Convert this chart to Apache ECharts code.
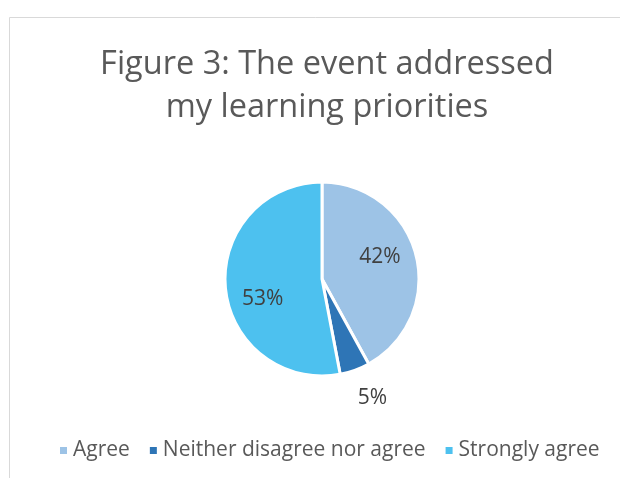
<!DOCTYPE html>
<html><head><meta charset="utf-8">
<script src="https://cdn.jsdelivr.net/npm/echarts@6/dist/echarts.min.js"></script>
<style>html,body{margin:0;padding:0;background:#fff}#c{width:620px;height:478px}</style>
</head><body><div id="c"></div>
<script>
const titleLines = ['Figure 3: The event addressed', 'my learning priorities'];
const categories = ['Agree', 'Neither disagree nor agree', 'Strongly agree'];
const values = [42, 5, 53];
const colors = ['#9DC3E6', '#2E75B6', '#4DC1EF'];
const labelShift = [[8, -9], [33, 71], [-8, 15]];

const chart = echarts.init(document.getElementById('c'), null, {renderer: 'canvas'});
const font = 'Open Sans';
chart.setOption({
  animation: false,
  graphic: [{
    type: 'rect', shape: {x: 9.5, y: 17.5, width: 700, height: 600},
    style: {fill: '#fff', stroke: '#d9d9d9', lineWidth: 1}, z: -10
  }],
  title: {
    text: titleLines.join('\n'), left: 322, top: 38, textAlign: 'center',
    textStyle: {fontFamily: font, fontSize: 32.5, fontWeight: 'normal', color: '#595959', lineHeight: 43}
  },
  legend: {
    bottom: 17, left: 58, padding: 0, icon: 'rect', itemWidth: 9, itemHeight: 9, itemGap: 18,
    textStyle: {fontFamily: font, fontSize: 21, color: '#595959'},
    data: categories
  },
  series: [{
    type: 'pie', center: [322, 279], radius: 97, startAngle: 90, clockwise: true,
    itemStyle: {borderColor: '#fff', borderWidth: 3},
    label: {show: true, position: 'inside', formatter: '{d}%', fontFamily: font, fontSize: 21, color: '#404040'},
    labelLine: {show: false},
    labelLayout: p => ({dx: labelShift[p.dataIndex][0], dy: labelShift[p.dataIndex][1]}),
    data: categories.map((n, i) => ({name: n, value: values[i], itemStyle: {color: colors[i]}}))
  }]
});
</script></body></html>
